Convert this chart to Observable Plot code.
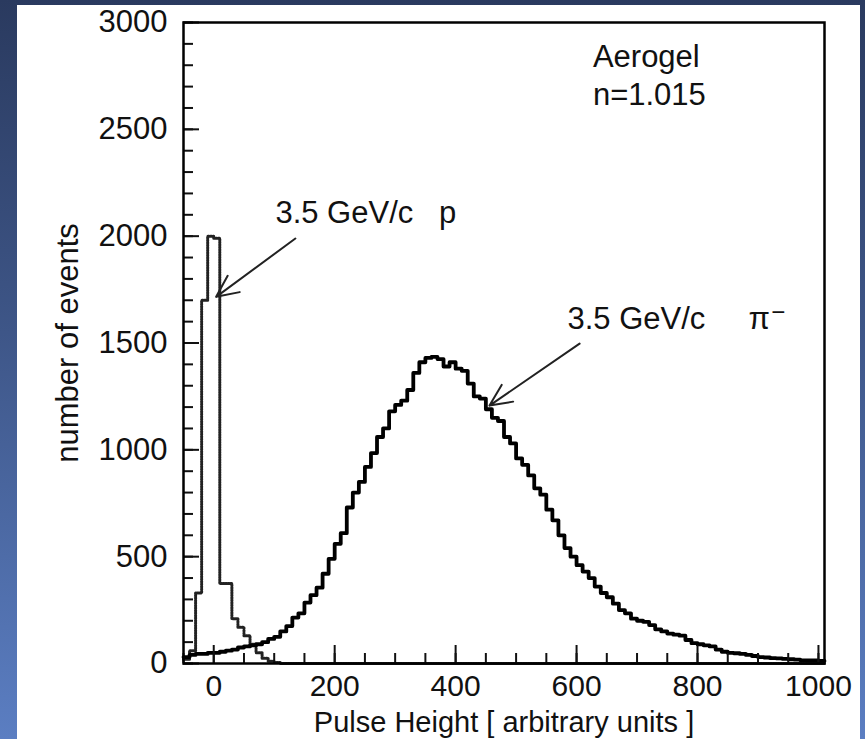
<!DOCTYPE html>
<html>
<head>
<meta charset="utf-8">
<script src="https://cdn.jsdelivr.net/npm/d3@7"></script>
<script src="https://cdn.jsdelivr.net/npm/@observablehq/plot@0.6"></script>
<style>
  html, body { margin: 0; padding: 0; }
  #page { position: relative; width: 865px; height: 739px; overflow: hidden;
          background: linear-gradient(to bottom, #2a3a5f 0%, #3e5688 45%, #5b7ec2 100%); }
  #panel { position: absolute; left: 17px; top: 5px; width: 843px; height: 734px; background: #fff; }
  #chart { position: absolute; left: 0; top: 0; }
</style>
</head>
<body>
<div id="page"><div id="panel"></div><div id="chart"></div></div>
<script>
// Histogram binning (bin left edges, width 10)
const binWidth = 10;
const binLeft = d3.range(-50, 1010, binWidth);

// Pion (3.5 GeV/c pi-) counts per bin
const pionCounts = [
  30, 40, 45, 45, 50, 50, 55, 60, 65, 75,
  80, 85, 90, 100, 115, 125, 150, 175, 215, 235,
  285, 320, 355, 420, 490, 560, 610, 730, 800, 850,
  920, 985, 1060, 1100, 1180, 1210, 1230, 1280, 1360, 1410,
  1430, 1435, 1425, 1390, 1410, 1380, 1370, 1310, 1250, 1240,
  1190, 1150, 1135, 1060, 1030, 960, 930, 880, 820, 790,
  720, 670, 600, 540, 500, 460, 430, 400, 360, 330,
  310, 280, 250, 235, 210, 200, 195, 180, 160, 150,
  140, 135, 130, 110, 95, 90, 85, 80, 65, 55,
  50, 48, 45, 40, 35, 30, 28, 25, 24, 22,
  20, 18, 15, 14, 14, 12
];

// Proton (3.5 GeV/c p) counts per bin
const protonCounts = [
  20, 60, 330, 1700, 2000, 1990, 374, 374, 210, 170,
  130, 90, 50, 25, 10, 5, 0, 0, 0, 0,
  0, 0, 0, 0, 0, 0, 0, 0, 0, 0,
  0, 0, 0, 0, 0, 0, 0, 0, 0, 0,
  0, 0, 0, 0, 0, 0, 0, 0, 0, 0,
  0, 0, 0, 0, 0, 0, 0, 0, 0, 0,
  0, 0, 0, 0, 0, 0, 0, 0, 0, 0,
  0, 0, 0, 0, 0, 0, 0, 0, 0, 0,
  0, 0, 0, 0, 0, 0, 0, 0, 0, 0,
  0, 0, 0, 0, 0, 0, 0, 0, 0, 0,
  0, 0, 0, 0, 0, 0
];

// Axis ticks
const xMajorTicks = [0, 200, 400, 600, 800, 1000];
const xMinorTicks = d3.range(-50, 1001, 50);
const yMajorTicks = [0, 500, 1000, 1500, 2000, 2500, 3000];
const yMinorTicks = d3.range(0, 3001, 100);

// Annotations
const labelTexts = ["Aerogel", "n=1.015", "3.5 GeV/c\u00a0\u00a0\u00a0p", "3.5 GeV/c\u00a0\u00a0\u00a0\u00a0\u00a0π"];
const labelX = [627, 627, 102, 585];
const labelY = [2840, 2660, 2110, 1614];
const superTexts = ["−"];
const superX = [922];
const superY = [1645];
const arrowFrom = [[135, 1989], [605, 1497]];
const arrowTo = [[4, 1716], [456, 1207]];

function steps(counts) {
  const pts = binLeft.map((b, i) => ({edge: b, count: counts[i]}));
  pts.push({edge: binLeft[binLeft.length - 1] + binWidth, count: counts[counts.length - 1]});
  return pts;
}
const pionSteps = steps(pionCounts);
const protonSteps = steps(protonCounts);
const labels = labelTexts.map((t, i) => ({t, x: labelX[i], y: labelY[i]}));
const supers = superTexts.map((t, i) => ({t, x: superX[i], y: superY[i]}));
const arrows = arrowFrom.map((f, i) => ({x1: f[0], y1: f[1], x2: arrowTo[i][0], y2: arrowTo[i][1]}));
const fmt = d3.format("d");

const chart = Plot.plot({
  width: 865,
  height: 739,
  marginLeft: 183,
  marginRight: 41,
  marginTop: 22,
  marginBottom: 76,
  style: {background: "transparent", fontFamily: "'Liberation Sans', Arial, sans-serif", fontSize: "31px", color: "#111"},
  x: {domain: [-50, 1010]},
  y: {domain: [0, 3000]},
  marks: [
    Plot.line(protonSteps, {x: "edge", y: "count", curve: "step-after", stroke: "#222", strokeWidth: 3, strokeDasharray: "1.2,1.3"}),
    Plot.line(pionSteps, {x: "edge", y: "count", curve: "step-after", stroke: "#000", strokeWidth: 3.8}),
    Plot.axisX({ticks: xMinorTicks, tickSize: -10, tickFormat: () => "", label: null, strokeWidth: 2}),
    Plot.axisX({ticks: xMajorTicks, tickSize: -18, tickFormat: () => "", label: null, strokeWidth: 2}),
    Plot.axisX({ticks: xMajorTicks, tickSize: 0, tickPadding: 11, tickFormat: fmt, fontSize: 30, label: null}),
    Plot.axisX({ticks: [], tickSize: 0, label: "Pulse Height [ arbitrary units ]", labelAnchor: "center", labelArrow: "none", labelOffset: 68, fontSize: 29}),
    Plot.axisY({ticks: yMinorTicks, tickSize: -10, tickFormat: () => "", label: null, strokeWidth: 2}),
    Plot.axisY({ticks: yMajorTicks, tickSize: -16, tickFormat: () => "", label: null, strokeWidth: 2}),
    Plot.axisY({ticks: yMajorTicks, tickSize: 0, tickPadding: 16, tickFormat: fmt, fontSize: 31, label: "number of events", labelAnchor: "center", labelOffset: 128, labelArrow: "none"}),
    Plot.frame({stroke: "#000", strokeWidth: 2.5}),
    Plot.arrow(arrows, {x1: "x1", y1: "y1", x2: "x2", y2: "y2", stroke: "#222", strokeWidth: 2, headLength: 18, headAngle: 50, bend: 0}),
    Plot.text(labels, {x: "x", y: "y", text: "t", textAnchor: "start", fontSize: 31, fill: "#111"}),
    Plot.text(supers, {x: "x", y: "y", text: "t", textAnchor: "start", fontSize: 24, fill: "#111"})
  ]
});
document.getElementById("chart").appendChild(chart);
</script>
</body>
</html>
